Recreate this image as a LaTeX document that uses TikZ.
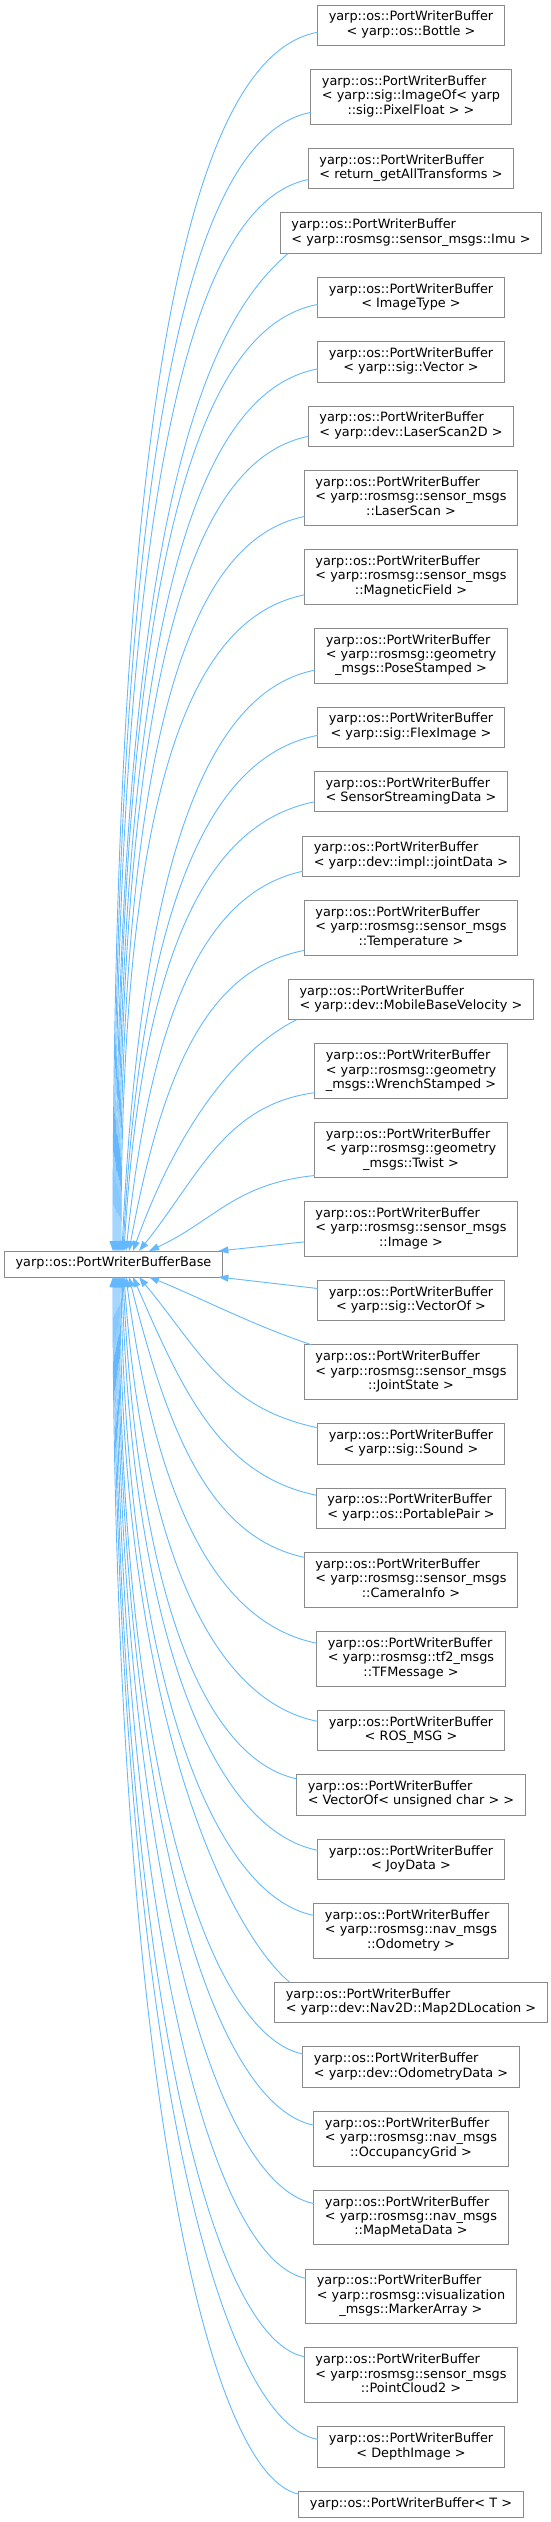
\documentclass[tikz,border=0pt]{standalone}
\usepackage{fontspec}
\setmainfont{DejaVu Sans}
\usepackage{tikz}
\usetikzlibrary{arrows.meta,positioning}
\definecolor{dgray}{HTML}{8A8A8A}
\definecolor{dblue}{HTML}{63B8FF}
\newcommand{\boxtext}[1]{\begin{tabular}{@{}l@{}}#1\end{tabular}}
\newcommand{\centerln}[1]{\multicolumn{1}{@{}c@{}}{#1}}
\newcommand{\pwb}{yarp::os::PortWriterBuffer}
\tikzset{
  cls/.style={draw=dgray,fill=white,line width=1pt,outer sep=0pt,inner xsep=11pt,inner ysep=5.8pt,font=\fontsize{12.85}{14.4}\selectfont},
  inh/.style={-{Triangle[length=10pt,width=7pt]},line width=0.9pt,draw=dblue},
}
\begin{document}
\begin{tikzpicture}[x=1pt,y=-1pt,node distance=24.05pt]
  \useasboundingbox (0,0) rectangle (551,2522);
  % base class
  \node[cls] (base) at (113.5,1264) {\boxtext{yarp::os::PortWriterBufferBase}};
  % derived classes, top to bottom
  \node[cls] (bottle) at (411,25.2) {\boxtext{\pwb\\\centerln{< yarp::os::Bottle >}}};
  \node[cls,below=of bottle] (imgfloat) {\boxtext{\pwb\\< yarp::sig::ImageOf< yarp\\\centerln{::sig::PixelFloat > >}}};
  \node[cls,below=of imgfloat] (alltf) {\boxtext{\pwb\\\centerln{< return\_getAllTransforms >}}};
  \node[cls,below=of alltf] (imu) {\boxtext{\pwb\\\centerln{< yarp::rosmsg::sensor\_msgs::Imu >}}};
  \node[cls,below=of imu] (imgtype) {\boxtext{\pwb\\\centerln{< ImageType >}}};
  \node[cls,below=of imgtype] (vector) {\boxtext{\pwb\\\centerln{< yarp::sig::Vector >}}};
  \node[cls,below=of vector] (laser2d) {\boxtext{\pwb\\\centerln{< yarp::dev::LaserScan2D >}}};
  \node[cls,below=of laser2d] (laserscan) {\boxtext{\pwb\\< yarp::rosmsg::sensor\_msgs\\\centerln{::LaserScan >}}};
  \node[cls,below=of laserscan] (magfield) {\boxtext{\pwb\\< yarp::rosmsg::sensor\_msgs\\\centerln{::MagneticField >}}};
  \node[cls,below=of magfield] (pose) {\boxtext{\pwb\\< yarp::rosmsg::geometry\\\centerln{\_msgs::PoseStamped >}}};
  \node[cls,below=of pose] (flex) {\boxtext{\pwb\\\centerln{< yarp::sig::FlexImage >}}};
  \node[cls,below=of flex] (sensor) {\boxtext{\pwb\\\centerln{< SensorStreamingData >}}};
  \node[cls,below=of sensor] (joint) {\boxtext{\pwb\\\centerln{< yarp::dev::impl::jointData >}}};
  \node[cls,below=of joint] (temp) {\boxtext{\pwb\\< yarp::rosmsg::sensor\_msgs\\\centerln{::Temperature >}}};
  \node[cls,below=of temp] (mobile) {\boxtext{\pwb\\\centerln{< yarp::dev::MobileBaseVelocity >}}};
  \node[cls,below=of mobile] (wrench) {\boxtext{\pwb\\< yarp::rosmsg::geometry\\\centerln{\_msgs::WrenchStamped >}}};
  \node[cls,below=of wrench] (twist) {\boxtext{\pwb\\< yarp::rosmsg::geometry\\\centerln{\_msgs::Twist >}}};
  \node[cls,below=of twist] (image) {\boxtext{\pwb\\< yarp::rosmsg::sensor\_msgs\\\centerln{::Image >}}};
  \node[cls,below=of image] (vectorof) {\boxtext{\pwb\\\centerln{< yarp::sig::VectorOf >}}};
  \node[cls,below=of vectorof] (jstate) {\boxtext{\pwb\\< yarp::rosmsg::sensor\_msgs\\\centerln{::JointState >}}};
  \node[cls,below=of jstate] (sound) {\boxtext{\pwb\\\centerln{< yarp::sig::Sound >}}};
  \node[cls,below=of sound] (pair) {\boxtext{\pwb\\\centerln{< yarp::os::PortablePair >}}};
  \node[cls,below=of pair] (caminfo) {\boxtext{\pwb\\< yarp::rosmsg::sensor\_msgs\\\centerln{::CameraInfo >}}};
  \node[cls,below=of caminfo] (tfmsg) {\boxtext{\pwb\\< yarp::rosmsg::tf2\_msgs\\\centerln{::TFMessage >}}};
  \node[cls,below=of tfmsg] (rosmsg) {\boxtext{\pwb\\\centerln{< ROS\_MSG >}}};
  \node[cls,below=of rosmsg] (vecuchar) {\boxtext{\pwb\\\centerln{< VectorOf< unsigned char > >}}};
  \node[cls,below=of vecuchar] (joy) {\boxtext{\pwb\\\centerln{< JoyData >}}};
  \node[cls,below=of joy] (odom) {\boxtext{\pwb\\< yarp::rosmsg::nav\_msgs\\\centerln{::Odometry >}}};
  \node[cls,below=of odom] (map2d) {\boxtext{\pwb\\\centerln{< yarp::dev::Nav2D::Map2DLocation >}}};
  \node[cls,below=of map2d] (odomdata) {\boxtext{\pwb\\\centerln{< yarp::dev::OdometryData >}}};
  \node[cls,below=of odomdata] (occgrid) {\boxtext{\pwb\\< yarp::rosmsg::nav\_msgs\\\centerln{::OccupancyGrid >}}};
  \node[cls,below=of occgrid] (mapmeta) {\boxtext{\pwb\\< yarp::rosmsg::nav\_msgs\\\centerln{::MapMetaData >}}};
  \node[cls,below=of mapmeta] (marker) {\boxtext{\pwb\\< yarp::rosmsg::visualization\\\centerln{\_msgs::MarkerArray >}}};
  \node[cls,below=of marker] (pcloud) {\boxtext{\pwb\\< yarp::rosmsg::sensor\_msgs\\\centerln{::PointCloud2 >}}};
  \node[cls,below=of pcloud] (depth) {\boxtext{\pwb\\\centerln{< DepthImage >}}};
  \node[cls,below=of depth] (tmpl) {\boxtext{yarp::os::PortWriterBuffer< T >}};
  % inheritance edges above the base
  \draw[inh] ([yshift=-7pt]bottle.west) .. controls +(-108,20) and +(0,-951) .. ([xshift=-0.5pt]base.north);
  \draw[inh] ([yshift=-15.5pt]imgfloat.west) .. controls +(-104,20) and +(0,-888) .. ([xshift=0.5pt]base.north);
  \draw[inh] ([yshift=-11pt]alltf.west) .. controls +(-101,20) and +(0,-835) .. ([xshift=1.5pt]base.north);
  \draw[inh] ([xshift=8pt]imu.south west) .. controls +(-70,60) and +(0,-780) .. ([xshift=2.5pt]base.north);
  \draw[inh] ([yshift=-7pt]imgtype.west) .. controls +(-106,20) and +(0,-739) .. ([xshift=3.5pt]base.north);
  \draw[inh] ([yshift=-7pt]vector.west) .. controls +(-105,20) and +(0,-689) .. ([xshift=4.5pt]base.north);
  \draw[inh] ([yshift=-10pt]laser2d.west) .. controls +(-100,20) and +(0,-636) .. ([xshift=5.5pt]base.north);
  \draw[inh] ([yshift=-18.5pt]laserscan.west) .. controls +(-97,20) and +(0,-573) .. ([xshift=6.5pt]base.north);
  \draw[inh] ([yshift=-18pt]magfield.west) .. controls +(-97,20) and +(0,-512) .. ([xshift=7.5pt]base.north);
  \draw[inh] ([yshift=-14.5pt]pose.west) .. controls +(-102,20) and +(19,-407) .. ([xshift=8.5pt]base.north);
  \draw[inh] ([yshift=-8pt]flex.west) .. controls +(-103,20) and +(19,-361) .. ([xshift=9.5pt]base.north);
  \draw[inh] ([yshift=-10pt]sensor.west) .. controls +(-100,20) and +(19,-316) .. ([xshift=10.5pt]base.north);
  \draw[inh] ([yshift=-15pt]joint.west) .. controls +(-93,20) and +(26,-250) .. ([xshift=12.5pt]base.north);
  \draw[inh] ([yshift=-22.5pt]temp.west) .. controls +(-93,18) and +(35,-190) .. ([xshift=15.5pt]base.north);
  \draw[inh] ([xshift=8pt]mobile.south west) .. controls +(-60,30) and +(45,-125) .. ([xshift=19.5pt]base.north);
  \draw[inh] ([yshift=-21.5pt]wrench.west) .. controls +(-90,12) and +(60,-75) .. ([xshift=25.5pt]base.north);
  \draw[inh] ([yshift=-25.5pt]twist.west) .. controls +(-80,8) and +(65,-30) .. ([xshift=35.5pt]base.north);
  \draw[inh] ([yshift=-13pt]image.west) -- ([xshift=-4pt]base.north east);
  % inheritance edges below the base
  \draw[inh] ([yshift=12pt]vectorof.west) -- ([xshift=-4pt]base.south east);
  \draw[inh] ([xshift=7pt]jstate.north west) .. controls +(-60,-20) and +(50,20) .. ([xshift=35.5pt]base.south);
  \draw[inh] ([yshift=16pt]sound.west) .. controls +(-94,-20) and +(62,75) .. ([xshift=25.5pt]base.south);
  \draw[inh] ([yshift=13pt]pair.west) .. controls +(-96,-20) and +(50,115) .. ([xshift=19.5pt]base.south);
  \draw[inh] ([yshift=22.5pt]caminfo.west) .. controls +(-93,-20) and +(40,160) .. ([xshift=15.5pt]base.south);
  \draw[inh] ([yshift=15.5pt]tfmsg.west) .. controls +(-100,-20) and +(30,225) .. ([xshift=12.5pt]base.south);
  \draw[inh] ([yshift=9pt]rosmsg.west) .. controls +(-102,-20) and +(20,280) .. ([xshift=10.5pt]base.south);
  \draw[inh] ([yshift=16pt]vecuchar.west) .. controls +(-92,-20) and +(15,320) .. ([xshift=9.5pt]base.south);
  \draw[inh] ([yshift=9pt]joy.west) .. controls +(-103,-20) and +(10,360) .. ([xshift=8.5pt]base.south);
  \draw[inh] ([yshift=15.5pt]odom.west) .. controls +(-101,-20) and +(5,400) .. ([xshift=7.5pt]base.south);
  \draw[inh] ([xshift=15pt]map2d.north west) .. controls +(-60,-50) and +(0,440) .. ([xshift=6.5pt]base.south);
  \draw[inh] ([yshift=13pt]odomdata.west) .. controls +(-97,-20) and +(0,482) .. ([xshift=5.5pt]base.south);
  \draw[inh] ([yshift=13.5pt]occgrid.west) .. controls +(-103,-20) and +(0,526) .. ([xshift=4.5pt]base.south);
  \draw[inh] ([yshift=14pt]mapmeta.west) .. controls +(-103,-20) and +(0,574) .. ([xshift=3.5pt]base.south);
  \draw[inh] ([yshift=18pt]marker.west) .. controls +(-99,-20) and +(0,620) .. ([xshift=2.5pt]base.south);
  \draw[inh] ([yshift=18.5pt]pcloud.west) .. controls +(-100,-20) and +(0,669) .. ([xshift=1.5pt]base.south);
  \draw[inh] ([yshift=7.5pt]depth.west) .. controls +(-108,-20) and +(0,720) .. ([xshift=0.5pt]base.south);
  \draw[inh] ([yshift=10pt]tmpl.west) .. controls +(-98,-20) and +(0,755) .. ([xshift=-0.5pt]base.south);
\end{tikzpicture}
\end{document}
